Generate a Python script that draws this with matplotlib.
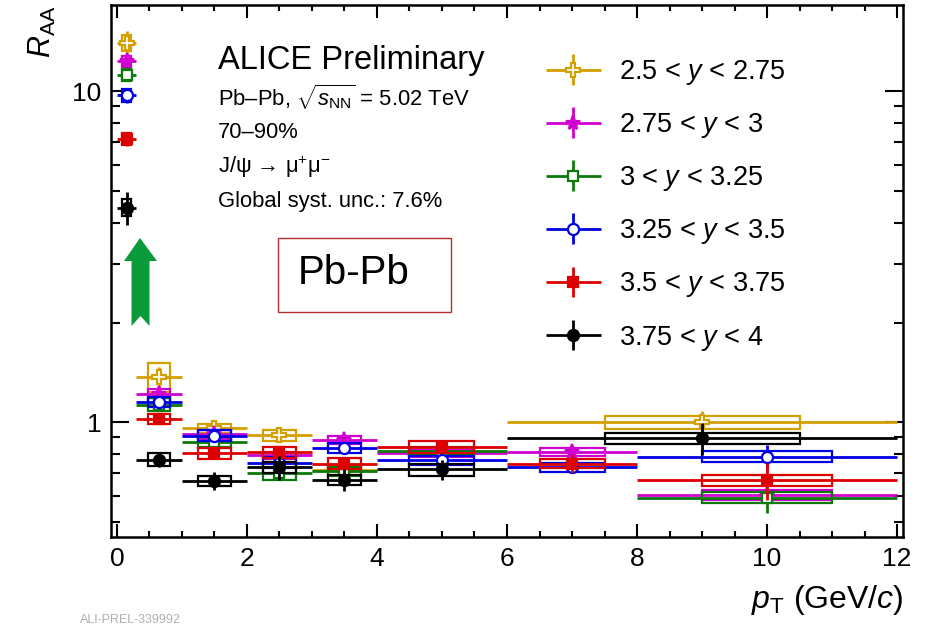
import numpy as np
import matplotlib
matplotlib.use('Agg')
import matplotlib.pyplot as plt
from matplotlib.patches import Rectangle, Polygon
from matplotlib.container import ErrorbarContainer
from matplotlib.legend_handler import HandlerErrorbar
from matplotlib.ticker import FixedLocator, NullFormatter, FuncFormatter, MultipleLocator

plt.rcParams['font.family'] = ['Liberation Sans', 'DejaVu Sans']
plt.rcParams['mathtext.fontset'] = 'custom'
plt.rcParams['mathtext.rm'] = 'Liberation Sans'
plt.rcParams['mathtext.it'] = 'Liberation Sans:italic'
plt.rcParams['mathtext.bf'] = 'Liberation Sans:bold'

# pT bin edges (GeV/c), indexed by the bins lists below
bin_lo = [0.0, 0.3, 1.0, 2.0, 3.0, 4.0, 6.0, 8.0, 6.0]
bin_hi = [0.3, 1.0, 2.0, 3.0, 4.0, 6.0, 8.0, 12.0, 12.0]

labels = ['2.5 < $y$ < 2.75', '2.75 < $y$ < 3', '3 < $y$ < 3.25',
          '3.25 < $y$ < 3.5', '3.5 < $y$ < 3.75', '3.75 < $y$ < 4']
colors = ['#d4a000', '#d000d0', '#0a7a0a', '#0000e6', '#dd0000', '#000000']
markers = ['P', '*', 's', 'o', 's', 'o']
filled = [False, True, False, False, True, True]
msizes = [10, 11, 7, 8, 7, 8]

# 2.5 < y < 2.75
bins_1 = [0, 1, 2, 3, 4, 8]
raa_1 = [14.0, 1.37, 0.96, 0.915, 0.715, 1.00]
stat_1 = [1.2, 0.10, 0.03, 0.03, 0.02, 0.08]
syst_1 = [0.75, 0.14, 0.03, 0.035, 0.02, 0.045]

# 2.75 < y < 3
bins_2 = [0, 1, 2, 3, 4, 5, 6, 7]
raa_2 = [12.3, 1.22, 0.92, 0.795, 0.885, 0.805, 0.813, 0.602]
stat_2 = [0.6, 0.04, 0.03, 0.02, 0.02, 0.02, 0.035, 0.03]
syst_2 = [0.45, 0.04, 0.03, 0.02, 0.025, 0.02, 0.02, 0.02]

# 3 < y < 3.25
bins_3 = [0, 1, 2, 3, 4, 5, 7]
raa_3 = [11.2, 1.13, 0.87, 0.70, 0.71, 0.82, 0.592]
stat_3 = [0.5, 0.03, 0.02, 0.02, 0.02, 0.02, 0.06]
syst_3 = [0.45, 0.05, 0.03, 0.03, 0.02, 0.02, 0.022]

# 3.25 < y < 3.5
bins_4 = [0, 1, 2, 3, 4, 5, 6, 7]
raa_4 = [9.7, 1.15, 0.91, 0.755, 0.835, 0.768, 0.73, 0.786]
stat_4 = [0.5, 0.03, 0.03, 0.02, 0.02, 0.02, 0.02, 0.065]
syst_4 = [0.45, 0.04, 0.035, 0.03, 0.03, 0.025, 0.025, 0.03]

# 3.5 < y < 3.75
bins_5 = [0, 1, 2, 3, 4, 5, 6, 7]
raa_5 = [7.16, 1.02, 0.805, 0.81, 0.75, 0.843, 0.75, 0.668]
stat_5 = [0.35, 0.025, 0.03, 0.03, 0.03, 0.03, 0.05, 0.085]
syst_5 = [0.3, 0.035, 0.03, 0.03, 0.03, 0.035, 0.025, 0.026]

# 3.75 < y < 4
bins_6 = [0, 1, 2, 3, 4, 5, 8]
raa_6 = [4.45, 0.77, 0.665, 0.73, 0.67, 0.72, 0.895]
stat_6 = [0.5, 0.04, 0.04, 0.06, 0.05, 0.05, 0.1]
syst_6 = [0.26, 0.035, 0.025, 0.03, 0.025, 0.03, 0.035]

series = [(bins_1, raa_1, stat_1, syst_1), (bins_2, raa_2, stat_2, syst_2),
          (bins_3, raa_3, stat_3, syst_3), (bins_4, raa_4, stat_4, syst_4),
          (bins_5, raa_5, stat_5, syst_5), (bins_6, raa_6, stat_6, syst_6)]

W, H = 926, 625
fig = plt.figure(figsize=(W / 100, H / 100), dpi=100)
L, R, T, B = 111, 903, 5, 537
ax = fig.add_axes([L / W, 1 - B / H, (R - L) / W, (B - T) / H])


def ax_frac(px, py):
    return ((px - L) / (R - L), (B - py) / (B - T))


handles = []
for i, (bins, raa, stat, syst) in enumerate(series):
    lo = np.array([bin_lo[b] for b in bins])
    hi = np.array([bin_hi[b] for b in bins])
    x = (lo + hi) / 2
    hw = (hi - lo) / 2
    c = colors[i]
    eb = ax.errorbar(x, raa, xerr=hw, yerr=stat, fmt=markers[i], color=c,
                     mfc=c if filled[i] else 'white', mec=c, ms=msizes[i],
                     mew=1.6, elinewidth=2.0, capsize=0, label=labels[i],
                     zorder=3 + i)
    handles.append(eb)
    # systematic boxes, half of the bin width wide
    for xc, w, v, s in zip(x, hw, raa, syst):
        ax.add_patch(Rectangle((xc - w / 2, v - s), w, 2 * s, fill=False,
                               edgecolor=c, lw=1.6, zorder=3 + i))

ax.set_yscale('log')
ax.set_xlim(-0.09, 12.09)
ax.set_ylim(0.45, 18.2)

ax.yaxis.set_major_locator(FixedLocator([1, 10]))
ax.yaxis.set_major_formatter(FuncFormatter(lambda v, p: '%g' % v))
ax.yaxis.set_minor_locator(FixedLocator([0.5, 0.6, 0.7, 0.8, 0.9, 2, 3, 4, 5, 6, 7, 8, 9]))
ax.yaxis.set_minor_formatter(NullFormatter())
ax.xaxis.set_major_locator(MultipleLocator(2))
ax.xaxis.set_minor_locator(MultipleLocator(0.5))

ax.tick_params(which='both', direction='in', top=True, right=True, width=1.5,
               labelsize=19)
ax.tick_params(axis='x', which='major', length=9.5, pad=7)
ax.tick_params(axis='x', which='minor', length=4.5)
ax.tick_params(axis='y', which='major', length=13, pad=7)
ax.tick_params(axis='y', which='minor', length=6.5)
for sp in ax.spines.values():
    sp.set_linewidth(1.8)

fig.text(42 / W, 1 - 6 / H, '$R_{\\rm AA}$', rotation=90, fontsize=22,
         ha='center', va='top')
fig.text(R / W, 1 - 600 / H, '$p_{\\rm T}$ (GeV/$c$)', fontsize=23,
         ha='right', va='center')

ax.legend(handles=handles, loc='upper left', bbox_to_anchor=ax_frac(546, 58),
          frameon=False, fontsize=19.5, handlelength=2.03, handletextpad=0.66,
          labelspacing=0.89, borderpad=0, borderaxespad=0,
          handler_map={ErrorbarContainer: HandlerErrorbar(xerr_size=1.0, yerr_size=0.57)})

ax.text(*ax_frac(218, 60), 'ALICE Preliminary', transform=ax.transAxes,
        fontsize=23.5, ha='left', va='center')
info = ['Pb–Pb, $\\sqrt{s_{\\rm NN}}$ = 5.02 TeV', '70–90%',
        'J/ψ → μ$^{+}$μ$^{-}$', 'Global syst. unc.: 7.6%']
for k, s in enumerate(info):
    ax.text(*ax_frac(218, 97 + 35 * k), s, transform=ax.transAxes,
            fontsize=15.8, ha='left', va='center')

# boxed collision system tag
x0, y0 = ax_frac(278, 312)
x1, y1 = ax_frac(451, 238)
ax.add_patch(Rectangle((x0, y0), x1 - x0, y1 - y0, transform=ax.transAxes,
                       fill=False, edgecolor='#b03030', lw=1.0, zorder=10))
ax.text(*ax_frac(298, 273), 'Pb-Pb', transform=ax.transAxes, fontsize=29,
        ha='left', va='center', zorder=10)

# green arrow pointing up at the low-pT excess
arrow_px = [(140, 238), (157, 261), (149.5, 261), (149.5, 326), (140.5, 316),
            (131.5, 326), (131.5, 261), (124, 261)]
ax.add_patch(Polygon([ax_frac(px, py) for px, py in arrow_px], closed=True,
                     transform=ax.transAxes, facecolor='#0b9a3a',
                     edgecolor='none', zorder=10))

fig.text(80 / W, 1 - 614 / H, 'ALI-PREL-339992', fontsize=9, color='#b0b0b0',
         ha='left', va='top')

fig.savefig('out.png', dpi=100)
